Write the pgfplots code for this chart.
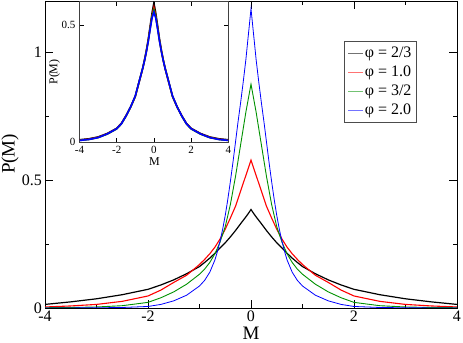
\documentclass[border=0pt]{standalone}
\usepackage{fontspec}
\setmainfont{Liberation Serif}
\usepackage{pgfplots}
\pgfplotsset{compat=1.18}
\definecolor{grn}{RGB}{0,145,0}
\begin{document}
\begin{tikzpicture}
\useasboundingbox (-45bp,-35bp) rectangle (418bp,308bp);
% main axis
\begin{axis}[
  at={(0,0)}, anchor=south west,
  scale only axis, width=412bp, height=307bp,
  xmin=-4, xmax=4, ymin=0, ymax=1.2,
  xtick={-4,-2,0,2,4}, xticklabels={-4,-2,0,2,4},
  minor xtick={-3,-1,1,3},
  ytick={0,0.5,1}, yticklabels={0,0.5,1},
  minor ytick={0.25,0.75},
  tick pos=both, tick align=inside,
  major tick length=8bp, minor tick length=4bp,
  tick style={black, line width=0.6bp},
  axis line style={black, line width=0.8bp},
  ticklabel style={font=\fontsize{16bp}{18bp}\selectfont, inner sep=1bp},
  xticklabel style={yshift=-2bp},
  yticklabel style={xshift=-2bp},
  xlabel={M}, ylabel={P(M)},
  label style={font=\fontsize{19bp}{21bp}\selectfont},
  xlabel style={at={(axis description cs:0.5,-0.083)}, anchor=center},
  ylabel style={at={(axis description cs:-0.085,0.502)}, anchor=center},
  legend style={at={(rel axis cs:0.7257,0.8697)}, anchor=north west,
    draw=black!70, line width=0.6bp, inner sep=3.5bp,
    font=\fontsize{16bp}{18bp}\selectfont,
    row sep=2bp,
    nodes={inner sep=1.5bp, text height=11bp, text depth=3bp}},
  legend cell align=left,
  legend image code/.code={\draw[#1, line width=0.5bp, opacity=0.55] (0bp,0bp) -- (15bp,0bp);},
]
\addplot[black, line width=1.2bp] coordinates {
(-4,0.014)(-3.5,0.024)(-3,0.036)(-2.5,0.052)(-2,0.073)(-1.75,0.090)(-1.5,0.110)(-1.25,0.134)
(-1,0.162)(-0.9,0.178)(-0.8,0.195)(-0.7,0.214)(-0.6,0.235)(-0.5,0.255)(-0.4,0.278)(-0.3,0.303)
(-0.2,0.330)(-0.1,0.356)(-0.05,0.370)(0,0.385)
(0.05,0.370)(0.1,0.356)(0.2,0.330)(0.3,0.303)(0.4,0.278)(0.5,0.255)(0.6,0.235)(0.7,0.214)
(0.8,0.195)(0.9,0.178)(1,0.162)(1.25,0.134)(1.5,0.110)(1.75,0.090)(2,0.073)(2.5,0.052)
(3,0.036)(3.5,0.024)(4,0.014)};
\addlegendentry{φ = 2/3}
\addplot[red, line width=1.1bp] coordinates {
(-4,0.004)(-3.5,0.008)(-3,0.014)(-2.5,0.026)(-2,0.047)(-1.75,0.070)(-1.5,0.100)(-1.25,0.128)
(-1,0.170)(-0.9,0.190)(-0.8,0.212)(-0.7,0.238)(-0.6,0.270)(-0.5,0.308)(-0.4,0.352)(-0.3,0.398)
(-0.2,0.458)(-0.1,0.518)(-0.05,0.548)(0,0.578)
(0.05,0.548)(0.1,0.518)(0.2,0.458)(0.3,0.398)(0.4,0.352)(0.5,0.308)(0.6,0.270)(0.7,0.238)
(0.8,0.212)(0.9,0.190)(1,0.170)(1.25,0.128)(1.5,0.100)(1.75,0.070)(2,0.047)(2.5,0.026)
(3,0.014)(3.5,0.008)(4,0.004)};
\addlegendentry{φ = 1.0}
\addplot[grn, line width=0.9bp] coordinates {
(-4,0.001)(-3.5,0.002)(-3,0.004)(-2.5,0.009)(-2,0.022)(-1.75,0.040)(-1.5,0.063)(-1.25,0.093)
(-1,0.132)(-0.9,0.152)(-0.8,0.178)(-0.7,0.212)(-0.6,0.258)(-0.5,0.318)(-0.4,0.405)(-0.3,0.515)
(-0.2,0.640)(-0.1,0.765)(-0.05,0.820)(0,0.875)
(0.05,0.820)(0.1,0.765)(0.2,0.640)(0.3,0.515)(0.4,0.405)(0.5,0.318)(0.6,0.258)(0.7,0.212)
(0.8,0.178)(0.9,0.152)(1,0.132)(1.25,0.093)(1.5,0.063)(1.75,0.040)(2,0.022)(2.5,0.009)
(3,0.004)(3.5,0.002)(4,0.001)};
\addlegendentry{φ = 3/2}
\addplot[blue, line width=0.8bp] coordinates {
(-4,0.0001)(-3.5,0.0003)(-3,0.0008)(-2.5,0.002)(-2,0.006)(-1.75,0.014)(-1.5,0.028)(-1.25,0.050)
(-1,0.086)(-0.9,0.108)(-0.8,0.140)(-0.7,0.188)(-0.65,0.222)(-0.6,0.262)(-0.55,0.308)(-0.5,0.362)
(-0.45,0.425)(-0.4,0.495)(-0.35,0.570)(-0.3,0.650)(-0.25,0.730)(-0.2,0.805)(-0.15,0.885)
(-0.1,0.970)(-0.05,1.070)(0,1.170)
(0.05,1.070)(0.1,0.970)(0.15,0.885)(0.2,0.805)(0.25,0.730)(0.3,0.650)(0.35,0.570)(0.4,0.495)
(0.45,0.425)(0.5,0.362)(0.55,0.308)(0.6,0.262)(0.65,0.222)(0.7,0.188)(0.8,0.140)(0.9,0.108)
(1,0.086)(1.25,0.050)(1.5,0.028)(1.75,0.014)(2,0.006)(2.5,0.002)(3,0.0008)(3.5,0.0003)(4,0.0001)};
\addlegendentry{φ = 2.0}
\end{axis}
% inset
\begin{axis}[
  at={(34.5bp,165.7bp)}, anchor=south west,
  scale only axis, width=148.8bp, height=140.6bp,
  xmin=-4, xmax=4, ymin=0, ymax=0.6,
  axis background/.style={fill=white},
  xtick={-4,-2,0,2,4}, xticklabels={-4,-2,0,2,4},
  ytick={0,0.5}, yticklabels={0,0.5},
  tick pos=both, tick align=inside,
  major tick length=4bp,
  tick style={black, line width=0.5bp},
  axis line style={black!75, line width=1.1bp},
  ticklabel style={font=\fontsize{11bp}{13bp}\selectfont, inner sep=1bp},
  xticklabel style={yshift=-3bp},
  yticklabel style={xshift=-3bp},
  xlabel={M}, ylabel={P(M)},
  label style={font=\fontsize{12bp}{14bp}\selectfont},
  xlabel style={at={(axis description cs:0.504,-0.14)}, anchor=center},
  ylabel style={at={(axis description cs:-0.168,0.5)}, anchor=center},
]
\addplot[black, line width=1.5bp] coordinates {
(-4,0.011)(-3.5,0.015)(-3,0.023)(-2.5,0.038)(-2,0.060)(-1.75,0.081)(-1.5,0.114)(-1.25,0.152)
(-1,0.197)(-0.8,0.258)(-0.6,0.318)(-0.5,0.354)(-0.4,0.395)(-0.3,0.442)(-0.2,0.498)(-0.1,0.552)(0,0.595)
(0.1,0.552)(0.2,0.498)(0.3,0.442)(0.4,0.395)(0.5,0.354)(0.6,0.318)(0.8,0.258)(1,0.197)
(1.25,0.152)(1.5,0.114)(1.75,0.081)(2,0.060)(2.5,0.038)(3,0.023)(3.5,0.015)(4,0.011)};
\addplot[red, line width=1.5bp] coordinates {
(-4,0.009)(-3.5,0.013)(-3,0.021)(-2.5,0.036)(-2,0.058)(-1.75,0.079)(-1.5,0.112)(-1.25,0.150)
(-1,0.195)(-0.8,0.255)(-0.6,0.315)(-0.5,0.350)(-0.4,0.390)(-0.3,0.436)(-0.2,0.490)(-0.1,0.540)(0,0.575)
(0.1,0.540)(0.2,0.490)(0.3,0.436)(0.4,0.390)(0.5,0.350)(0.6,0.315)(0.8,0.255)(1,0.195)
(1.25,0.150)(1.5,0.112)(1.75,0.079)(2,0.058)(2.5,0.036)(3,0.021)(3.5,0.013)(4,0.009)};
\addplot[grn, line width=1.5bp] coordinates {
(-4,0.008)(-3.5,0.012)(-3,0.020)(-2.5,0.035)(-2,0.057)(-1.75,0.078)(-1.5,0.111)(-1.25,0.150)
(-1,0.196)(-0.8,0.256)(-0.6,0.316)(-0.5,0.350)(-0.4,0.389)(-0.3,0.434)(-0.2,0.487)(-0.1,0.536)(0,0.565)
(0.1,0.536)(0.2,0.487)(0.3,0.434)(0.4,0.389)(0.5,0.350)(0.6,0.316)(0.8,0.256)(1,0.196)
(1.25,0.150)(1.5,0.111)(1.75,0.078)(2,0.057)(2.5,0.035)(3,0.020)(3.5,0.012)(4,0.008)};
\addplot[blue, line width=1.6bp] coordinates {
(-4,0.008)(-3.5,0.012)(-3,0.020)(-2.5,0.036)(-2,0.058)(-1.75,0.079)(-1.5,0.112)(-1.25,0.151)
(-1,0.198)(-0.8,0.257)(-0.6,0.316)(-0.5,0.350)(-0.4,0.388)(-0.3,0.432)(-0.2,0.483)(-0.1,0.530)(0,0.555)
(0.1,0.530)(0.2,0.483)(0.3,0.432)(0.4,0.388)(0.5,0.350)(0.6,0.316)(0.8,0.257)(1,0.198)
(1.25,0.151)(1.5,0.112)(1.75,0.079)(2,0.058)(2.5,0.036)(3,0.020)(3.5,0.012)(4,0.008)};
\end{axis}
\end{tikzpicture}
\end{document}
